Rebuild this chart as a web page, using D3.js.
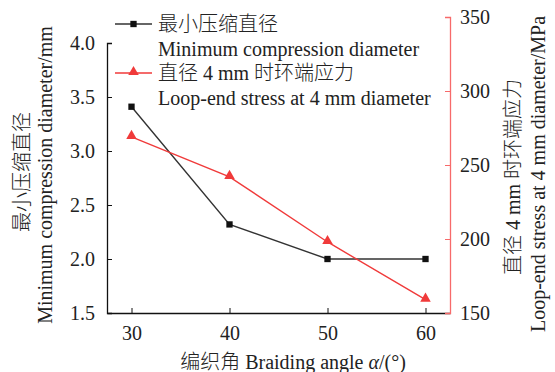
<!DOCTYPE html>
<html><head><meta charset="utf-8">
<script src="https://cdn.jsdelivr.net/npm/d3@7"></script>
<style>body{margin:0;background:#fff}svg{display:block}text{font-family:"Liberation Serif","Noto Sans CJK SC",serif;fill:#222}.zh{font-weight:300}</style>
</head><body><svg id="c" width="555" height="372"></svg>
<script>
const angles = [30, 40, 50, 60];
const minDiameter = [3.41, 2.32, 2.0, 2.0];
const loopStress = [269, 242, 198, 159];
const xTicks = [30, 40, 50, 60];
const yLeftTicks = [1.5, 2.0, 2.5, 3.0, 3.5, 4.0];
const yRightTicks = [150, 200, 250, 300, 350];
const seriesNames = [["最小压缩直径", "Minimum compression diameter"], ["直径 4 mm 时环端应力", "Loop-end stress at 4 mm diameter"]];

const svg = d3.select("#c");
const black = "#111", red = "#f03a3a", redAxis = "#f76a6a";
const x = d3.scaleLinear().domain([27.5, 62.5]).range([107, 450]);
const yL = d3.scaleLinear().domain([1.5, 4.0]).range([313, 43]);
const yR = d3.scaleLinear().domain([150, 350]).range([313, 17]);
const fs = 20;

const gx = svg.append("g").attr("transform", "translate(0,313)")
  .call(d3.axisBottom(x).tickValues(xTicks).tickSizeInner(-5).tickSizeOuter(0).tickPadding(10));
gx.select(".domain").attr("stroke", black).attr("stroke-width", 1.3);
gx.selectAll(".tick line").attr("stroke", black);
gx.selectAll("text").attr("font-size", fs).attr("fill", "#222").attr("dy", "0.85em").style("font-family", "Liberation Serif");

const gl = svg.append("g").attr("transform", "translate(107,0)")
  .call(d3.axisLeft(yL).tickValues(yLeftTicks).tickFormat(d3.format(".1f")).tickSizeInner(-5).tickSizeOuter(-5).tickPadding(12));
gl.select(".domain").attr("stroke", black).attr("stroke-width", 1.3);
gl.selectAll(".tick line").attr("stroke", black);
gl.selectAll("text").attr("font-size", fs).attr("fill", "#222").style("font-family", "Liberation Serif");

const gr = svg.append("g").attr("transform", "translate(450,0)")
  .call(d3.axisRight(yR).tickValues(yRightTicks).tickSizeInner(-5).tickSizeOuter(-5).tickPadding(10));
gr.select(".domain").attr("stroke", redAxis).attr("stroke-width", 1.3);
gr.selectAll(".tick line").attr("stroke", redAxis);
gr.selectAll("text").attr("font-size", fs).attr("fill", "#222").style("font-family", "Liberation Serif");

const lineL = d3.line().x((d, i) => x(angles[i])).y(d => yL(d));
const lineR = d3.line().x((d, i) => x(angles[i])).y(d => yR(d));
svg.append("path").attr("d", lineL(minDiameter)).attr("fill", "none").attr("stroke", "#333").attr("stroke-width", 1.4);
svg.append("path").attr("d", lineR(loopStress)).attr("fill", "none").attr("stroke", red).attr("stroke-width", 1.4);

const sq = d3.symbol().type(d3.symbolSquare).size(40);
const tri = d3.symbol().type(d3.symbolTriangle).size(48);
svg.selectAll(".sq").data(minDiameter).join("path").attr("class", "sq")
  .attr("d", sq).attr("transform", (d, i) => `translate(${x(angles[i])},${yL(d)})`).attr("fill", black);
svg.selectAll(".tri").data(loopStress).join("path").attr("class", "tri")
  .attr("d", tri).attr("transform", (d, i) => `translate(${x(angles[i])},${yR(d) - 1})`).attr("fill", red);

const leg = [{c: black, s: sq, y: 24, col: "#333"}, {c: red, s: tri, y: 73, col: red}];
leg.forEach((L, k) => {
  svg.append("line").attr("x1", 115).attr("x2", 152).attr("y1", L.y).attr("y2", L.y).attr("stroke", L.col).attr("stroke-width", 1.4);
  svg.append("path").attr("d", L.s).attr("transform", `translate(133.5,${L.y - (k ? 1 : 0)})`).attr("fill", L.c);
  svg.append("text").attr("class", "zh").attr("x", 158).attr("y", L.y).attr("dy", "0.35em").attr("font-size", fs).text(seriesNames[k][0]);
  svg.append("text").attr("x", 158).attr("y", L.y + 24.5).attr("dy", "0.35em").attr("font-size", fs).text(seriesNames[k][1]);
});

const xt = svg.append("text").attr("x", 293).attr("y", 362).attr("dy", "0.35em").attr("text-anchor", "middle").attr("font-size", fs);
xt.append("tspan").attr("class", "zh").text("编织角");
xt.append("tspan").text(" Braiding angle ");
xt.append("tspan").attr("font-style", "italic").text("α");
xt.append("tspan").text("/(°)");

svg.append("text").attr("class", "zh").attr("transform", "translate(22,172) rotate(-90)").attr("text-anchor", "middle").attr("dy", "0.35em").attr("font-size", fs).text("最小压缩直径");
svg.append("text").attr("transform", "translate(45,175) rotate(-90)").attr("text-anchor", "middle").attr("dy", "0.35em").attr("font-size", fs).text("Minimum compression diameter/mm");
svg.append("text").attr("class", "zh").attr("transform", "translate(513,177) rotate(-90)").attr("text-anchor", "middle").attr("dy", "0.35em").attr("font-size", fs).text("直径 4 mm 时环端应力");
svg.append("text").attr("transform", "translate(538,174) rotate(-90)").attr("text-anchor", "middle").attr("dy", "0.35em").attr("font-size", fs).text("Loop-end stress at 4 mm diameter/MPa");
</script></body></html>
